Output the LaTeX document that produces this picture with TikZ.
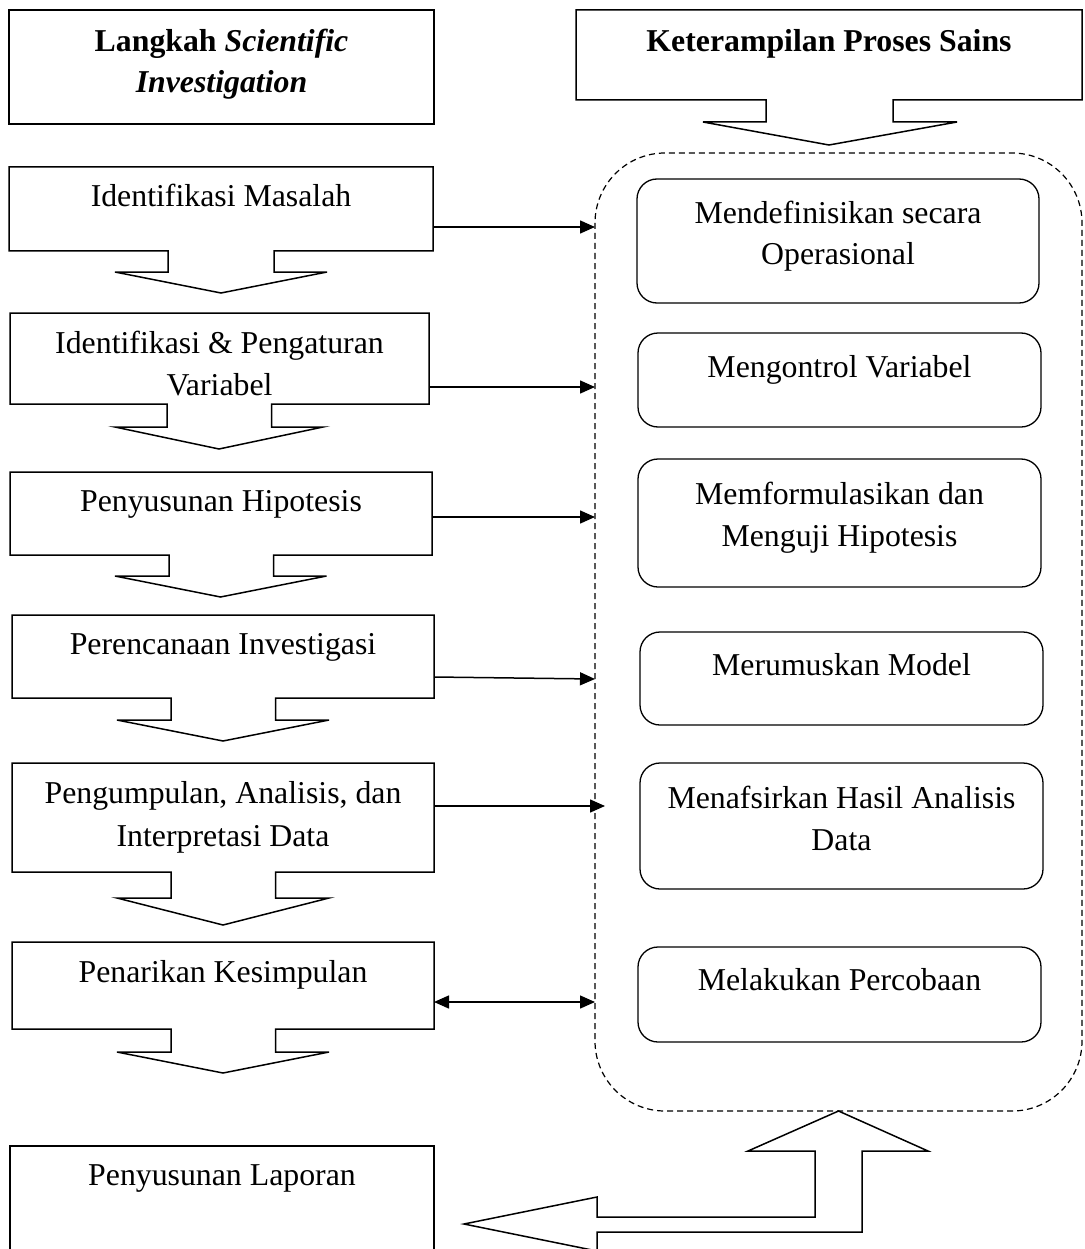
\documentclass[tikz,border=0pt]{standalone}
\usepackage{fontspec}
\setmainfont{Liberation Serif}
\usetikzlibrary{arrows.meta}
\newcommand\regionbox[5]{\path ({(#2+#4)/2},{(#3+#5)/2}) node[minimum width={(#4-#2)*1pt},minimum height={(#5-#3)*1pt},inner sep=0pt,outer sep=0pt] (#1) {};}
\newcommand\downcallout[8]{\draw[boxline] (#1.north west) -- (#1.north east) -- (#1.south east) -- (#1.south -| #3,0) -- (#3,#4) -- (#6,#4) -- (#7,#8) -- (#5,#4) -- (#2,#4) -- (#1.south -| #2,0) -- (#1.south west) -- cycle;}
\begin{document}
\begin{tikzpicture}[x=1pt,y=-1pt,
  boxline/.style={line width=1.5pt,line join=miter},
  skill/.style={draw,line width=1.3pt,rounded corners=20pt},
  txt/.style={anchor=base,inner sep=0pt,font=\fontsize{31.8pt}{38pt}\selectfont},
  ttl/.style={anchor=base,inner sep=0pt,font=\fontsize{31.8pt}{38pt}\selectfont\bfseries},
  conn/.style={line width=1.5pt,-{Triangle[length=15pt,width=13pt]}},
  dconn/.style={line width=1.5pt,{Triangle[length=15pt,width=13pt]}-{Triangle[length=15pt,width=13pt]}},
  dashbox/.style={line width=1.2pt,dash pattern=on 6pt off 4pt,rounded corners=70pt}
]
\useasboundingbox (0,0) rectangle (1084,1249);
\fill[white] (0,0) rectangle (1084,1249);

% ---------- left column ----------
\regionbox{T}{9}{10}{434}{124}
\draw[boxline] (T.north west) rectangle (T.south east);
\node[ttl] (tT1) at (221.5,52) {Langkah \textit{Scientific}};
\node[ttl] (tT2) at (221.5,93) {\textit{Investigation}};

\regionbox{IM}{9}{167}{433}{251}
\downcallout{IM}{168}{274}{272}{115}{327}{221}{293}
\node[txt] (tIM) at (221,207) {Identifikasi Masalah};

\regionbox{IPV}{10}{313}{429}{404}
\downcallout{IPV}{167}{271.5}{427}{115}{323}{219}{449}
\node[txt] (tIPV1) at (219.5,353) {Identifikasi \& Pengaturan};
\node[txt] (tIPV2) at (219.5,395) {Variabel};

\regionbox{PH}{10}{472}{432}{555}
\downcallout{PH}{169}{273.5}{576}{115}{326.5}{220.5}{597}
\node[txt] (tPH) at (221,511) {Penyusunan Hipotesis};

\regionbox{PI}{12}{615}{434}{698}
\downcallout{PI}{171}{275.5}{720}{117}{329}{223}{741}
\node[txt] (tPI) at (223,654) {Perencanaan Investigasi};

\regionbox{PA}{12}{763}{434}{872}
\downcallout{PA}{171}{275.5}{898}{117}{329}{223}{925}
\node[txt] (tPA1) at (223,803) {Pengumpulan, Analisis, dan};
\node[txt] (tPA2) at (223,846) {Interpretasi Data};

\regionbox{PK}{12}{942}{434}{1029}
\downcallout{PK}{171}{275.5}{1052}{117}{329}{223}{1073}
\node[txt] (tPK) at (223,982) {Penarikan Kesimpulan};

\regionbox{PL}{10}{1146}{434}{1249}
\draw[boxline] (PL.south west) -- (PL.north west) -- (PL.north east) -- (PL.south east);
\node[txt] (tPL) at (222,1185) {Penyusunan Laporan};

% ---------- right column ----------
\regionbox{KPS}{576}{10}{1082}{100}
\draw[boxline] (KPS.north west) -- (KPS.north east) -- (KPS.south east) -- (KPS.south -| 893,0) -- (893,122) -- (957,122) -- (829,145) -- (703,122) -- (766,122) -- (KPS.south -| 766,0) -- (KPS.south west) -- cycle;
\node[ttl] (tKPS) at (829,52) {Keterampilan Proses Sains};

\regionbox{area}{595}{153}{1082}{1111}
\draw[dashbox] (area.north west) rectangle (area.south east);

\regionbox{R1}{637}{179}{1039}{303}
\draw[skill] (R1.north west) rectangle (R1.south east);
\node[txt] (tR1a) at (838,224) {Mendefinisikan secara};
\node[txt] (tR1b) at (838,265) {Operasional};

\regionbox{R2}{638}{333}{1041}{427}
\draw[skill] (R2.north west) rectangle (R2.south east);
\node[txt] (tR2) at (839.5,377) {Mengontrol Variabel};

\regionbox{R3}{638}{459}{1041}{587}
\draw[skill] (R3.north west) rectangle (R3.south east);
\node[txt] (tR3a) at (839.5,504) {Memformulasikan dan};
\node[txt] (tR3b) at (839.5,546) {Menguji Hipotesis};

\regionbox{R4}{640}{632}{1043}{725}
\draw[skill] (R4.north west) rectangle (R4.south east);
\node[txt] (tR4) at (841.5,675) {Merumuskan Model};

\regionbox{R5}{640}{763}{1043}{889}
\draw[skill] (R5.north west) rectangle (R5.south east);
\node[txt] (tR5a) at (841.5,808) {Menafsirkan Hasil Analisis};
\node[txt] (tR5b) at (841.5,850) {Data};

\regionbox{R6}{638}{947}{1041}{1042}
\draw[skill] (R6.north west) rectangle (R6.south east);
\node[txt] (tR6) at (839.5,990) {Melakukan Percobaan};

% ---------- connectors ----------
\draw[conn] (IM.east |- 0,227) -- (area.west |- 0,227);
\draw[conn] (IPV.east |- 0,387) -- (area.west |- 0,387);
\draw[conn] (PH.east |- 0,517) -- (area.west |- 0,517);
\draw[conn] (PI.east |- 0,677) -- (area.west |- 0,679);
\coordinate (e5) at (605,806);
\draw[conn] (PA.east |- 0,806) -- (e5);
\draw[dconn] (PK.east |- 0,1002) -- (area.west |- 0,1002);

% ---------- bottom elbow arrow ----------
\draw[boxline] (area.south) -- (928,1151) -- (862,1151) -- (862,1232) -- (597,1232) -- (597,1251) -- (464,1224) -- (597,1197) -- (597,1217) -- (815,1217) -- (815,1151) -- (748,1151) -- cycle;
\end{tikzpicture}
\end{document}
